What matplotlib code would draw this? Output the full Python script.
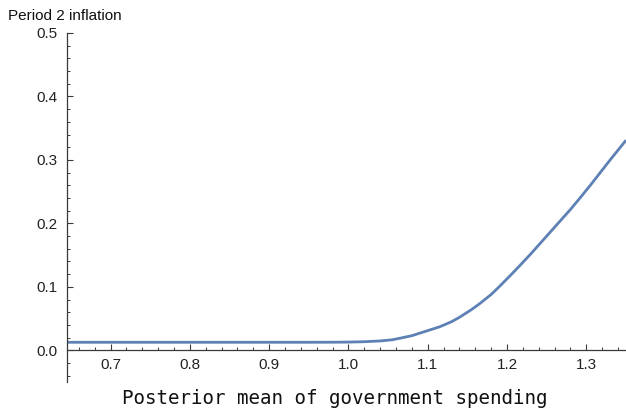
import matplotlib
matplotlib.use("Agg")
import matplotlib.pyplot as plt
from matplotlib.ticker import MultipleLocator, FormatStrFormatter

# Posterior mean of government spending vs. period 2 inflation
g_mean = [0.645, 0.70, 0.75, 0.80, 0.85, 0.90, 0.95, 0.98, 1.00, 1.02, 1.04,
          1.055, 1.065, 1.08, 1.09, 1.10, 1.115, 1.13, 1.14, 1.155, 1.165,
          1.18, 1.19, 1.205, 1.215, 1.23, 1.24, 1.255, 1.265, 1.28, 1.29,
          1.305, 1.315, 1.33, 1.35]
inflation = [0.0126, 0.0126, 0.0126, 0.0126, 0.0126, 0.0126, 0.0126, 0.0127,
             0.0129, 0.0135, 0.0147, 0.0165, 0.019, 0.023, 0.027, 0.031,
             0.037, 0.045, 0.052, 0.064, 0.073, 0.088, 0.100, 0.119, 0.132,
             0.152, 0.166, 0.187, 0.201, 0.222, 0.237, 0.260, 0.276, 0.300,
             0.331]

x_range = (0.645, 1.35)
y_range = (-0.05, 0.5)

fig = plt.figure(figsize=(6.26, 4.08), dpi=100)
ax = fig.add_axes([67 / 626, 1 - 382 / 408, 1 - 67 / 626, (382 - 33) / 408])

ax.plot(g_mean, inflation, color="#5E81B5", lw=2.0, solid_capstyle="butt",
        solid_joinstyle="round", clip_on=False)

ax.set_xlim(*x_range)
ax.set_ylim(*y_range)

for s in ("top", "right"):
    ax.spines[s].set_visible(False)
ax.spines["bottom"].set_position(("data", 0))
for s in ("left", "bottom"):
    ax.spines[s].set_color("#3a3a3a")
    ax.spines[s].set_linewidth(0.9)

ax.xaxis.set_major_locator(MultipleLocator(0.1))
ax.xaxis.set_minor_locator(MultipleLocator(0.02))
ax.yaxis.set_major_locator(MultipleLocator(0.1))
ax.yaxis.set_minor_locator(MultipleLocator(0.02))
ax.xaxis.set_major_formatter(FormatStrFormatter("%.1f"))
ax.yaxis.set_major_formatter(FormatStrFormatter("%.1f"))

ax.tick_params(which="major", direction="in", length=4.5, width=0.8,
               color="#3a3a3a", labelsize=11, labelcolor="#222222")
ax.tick_params(which="minor", direction="in", length=2.5, width=0.7,
               color="#3a3a3a")
ax.tick_params(axis="x", which="major", pad=5.5)
ax.tick_params(axis="y", which="major", pad=7)
ax.tick_params(axis="x", which="both", bottom=True, top=False)
ax.tick_params(axis="y", which="both", left=True, right=False)

ax.set_yticks([0.0, 0.1, 0.2, 0.3, 0.4, 0.5])
ax.set_xticks([0.7, 0.8, 0.9, 1.0, 1.1, 1.2, 1.3])
for lbl in ax.get_xticklabels() + ax.get_yticklabels():
    lbl.set_family(["Liberation Sans", "DejaVu Sans"])

fig.text(8 / 626, 1 - 16 / 408, "Period 2 inflation", ha="left", va="center",
         fontsize=11, family=["Liberation Sans", "DejaVu Sans"], color="#111111")
fig.text(335 / 626, 1 - 398 / 408, "Posterior mean of government spending",
         ha="center", va="center", fontsize=13.8,
         family=["DejaVu Sans Mono"], color="#111111")

fig.savefig("out.png", dpi=100)
